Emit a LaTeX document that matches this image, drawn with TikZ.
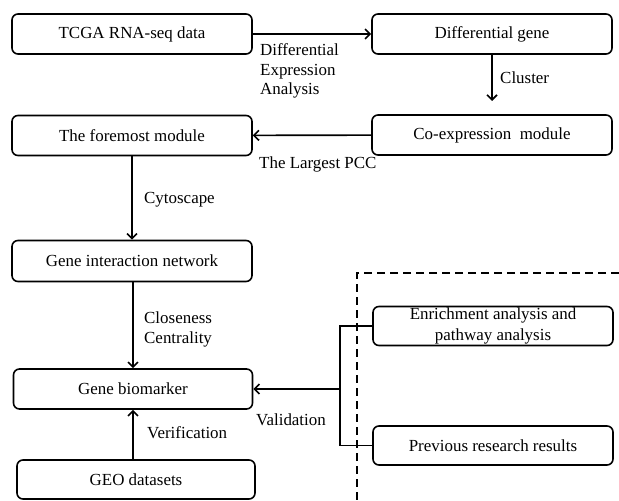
\documentclass[tikz,border=0pt]{standalone}
\usepackage{fontspec}
\setmainfont{Liberation Serif}
\usetikzlibrary{arrows,arrows.meta,shapes,positioning}

\begin{document}
\begin{tikzpicture}[x=1bp,y=-1bp,font=\fontsize{17}{20}\selectfont]
\tikzset{stepbox/.style ={draw,line width=1.6bp,rounded corners=6bp,minimum width=240bp,minimum height=40bp,inner sep=2bp,align=center},
  flow/.style ={-{Straight Barb[length=5bp,width=10bp,line width=1.6bp]},line width=1.6bp},
  lbl/.style ={inner sep=0pt,align=left}}
\useasboundingbox (0,0) rectangle (619,501);
% left column
    \node[stepbox] (tcga) at (132,34) {TCGA RNA-seq data};
    \node[stepbox] (foremost) at (132,135.5) {The foremost module};
    \node[stepbox,minimum height=41bp] (network) at (132,261) {Gene interaction network};
    \node[stepbox,minimum width=239bp] (biomarker) at (133,389) {Gene biomarker};
    \node[stepbox,minimum width=238bp,minimum height=39bp] (geo) at (136,479.5) {GEO datasets};
% right column
    \node[stepbox] (diffgene) at (492,34) {Differential gene};
    \node[stepbox] (coexp) at (492,135) {Co-expression~ module};
    \node[stepbox,minimum height=39bp,inner sep=0pt] (enrich) at (493,326) {Enrichment analysis and\\[1bp]pathway analysis};
    \node[stepbox,minimum height=39bp] (previous) at (493,445.5) {Previous research results};
    \coordinate (clusterend) at (492,101);
    \coordinate (fork) at (340,389);

    \draw[flow] (tcga) -- (diffgene);
    \draw[flow] (diffgene) -- (clusterend);
    \draw[flow] (coexp) -- (foremost);
    \draw[flow] (foremost) -- (network);
    \draw[flow] (network.south -| biomarker.north) -- (biomarker.north);
    \draw[flow] (geo.north -| biomarker.south) -- (biomarker.south);
    \draw[line width=1.2bp] (enrich.west) -| (fork) |- (previous.west);
    \draw[flow] (fork) -- (biomarker);

    \draw[dashed,line width=2.4bp,dash pattern=on 8bp off 5bp] (619,273) -| (357,501);

    \node[lbl,anchor=north west] (dea) at (260,43) {Differential\\Expression\\Analysis};
    \node[lbl,anchor=west] (cluster) at (500,78) {Cluster};
    \node[lbl,anchor=west] (pcc) at (259,164) {The Largest PCC};
    \node[lbl,anchor=west] (cyto) at (144,200) {Cytoscape};
    \node[lbl,anchor=north west] (close) at (144,312) {Closeness\\Centrality};
    \node[lbl,anchor=west] (valid) at (256,420) {Validation};
    \node[lbl,anchor=west] (verif) at (147,433) {Verification};
\end{tikzpicture}
\end{document}
